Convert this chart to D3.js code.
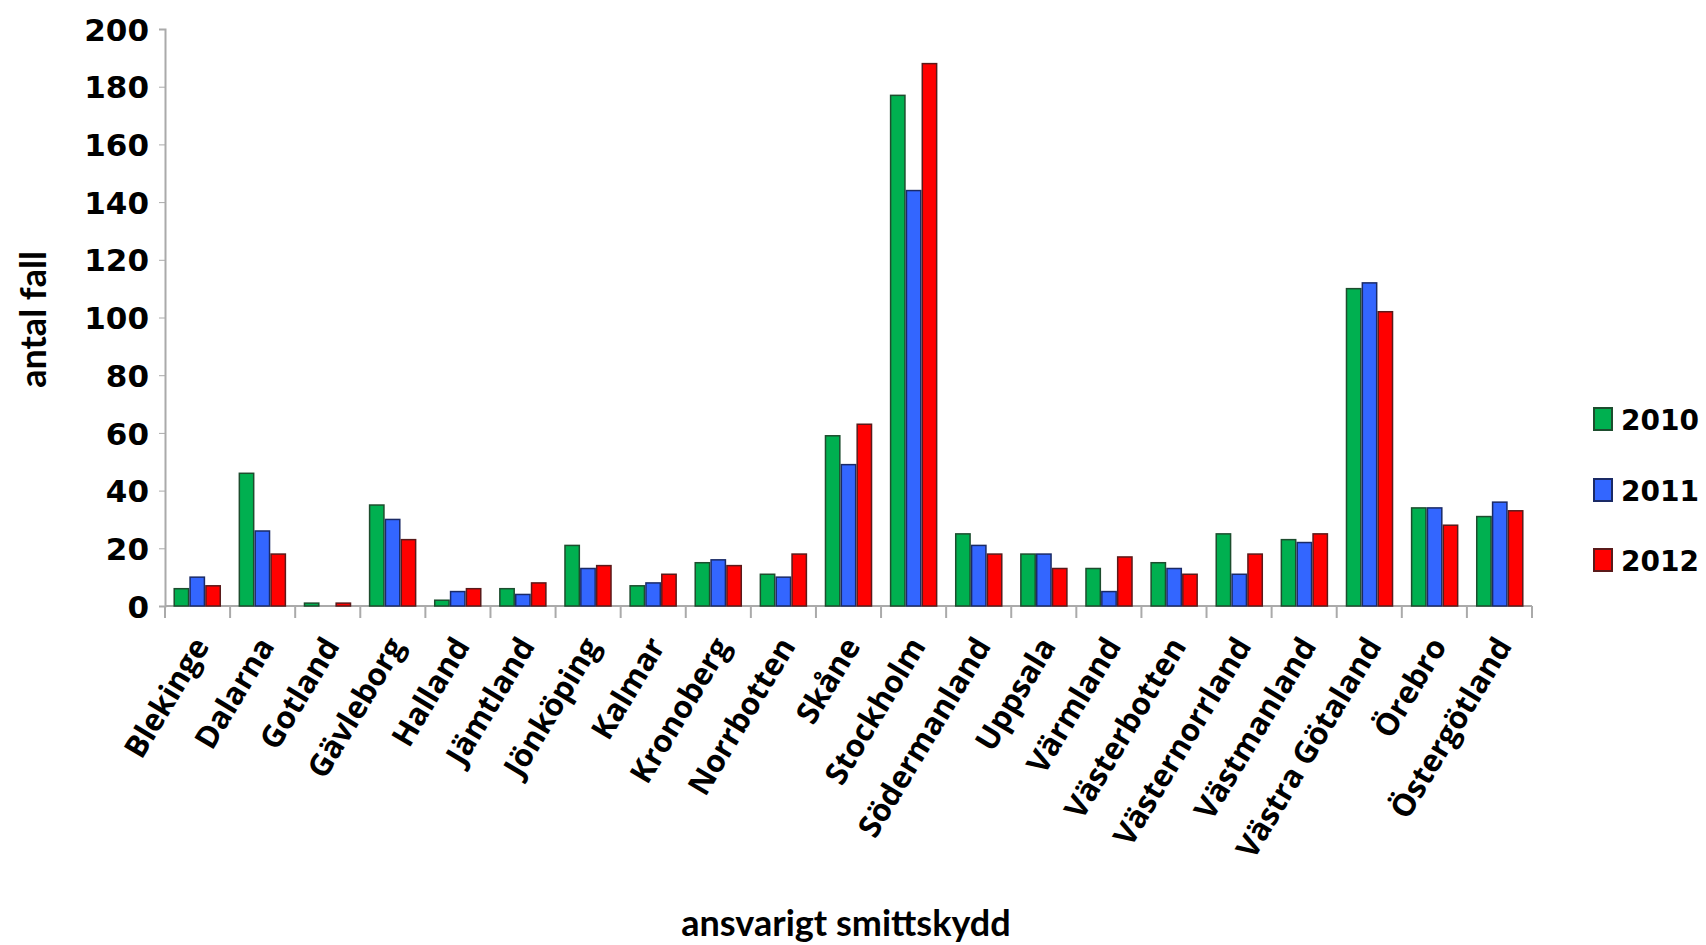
<!DOCTYPE html>
<html>
<head>
<meta charset="utf-8">
<script src="https://cdn.jsdelivr.net/npm/d3@7"></script>
<style>
  body { margin: 0; background: #fff; }
  text { font-family: Lato, "Liberation Sans", sans-serif; font-weight: bold; fill: #000; }
  .num { font-family: "DejaVu Sans", sans-serif; }
  .lab { font-family: "Open Sans", sans-serif; }
</style>
</head>
<body>
<svg id="chart" width="1706" height="945"></svg>
<script>
var regions = ['Blekinge', 'Dalarna', 'Gotland', 'Gävleborg', 'Halland', 'Jämtland', 'Jönköping',
  'Kalmar', 'Kronoberg', 'Norrbotten', 'Skåne', 'Stockholm', 'Södermanland', 'Uppsala', 'Värmland',
  'Västerbotten', 'Västernorrland', 'Västmanland', 'Västra Götaland', 'Örebro', 'Östergötland']
var years = ['2010', '2011', '2012']
var v2010 = [6, 46, 1, 35, 2, 6, 21, 7, 15, 11, 59, 177, 25, 18, 13, 15, 25, 23, 110, 34, 31]
var v2011 = [10, 26, 0, 30, 5, 4, 13, 8, 16, 10, 49, 144, 21, 18, 5, 13, 11, 22, 112, 34, 36]
var v2012 = [7, 18, 1, 23, 6, 8, 14, 11, 14, 18, 63, 188, 18, 13, 17, 11, 18, 25, 102, 28, 33]
var yTicks = d3.range(0, 201, 20)
var colors = ['#00b050', '#3366ff', '#ff0000']
var strokes = ['#1d4d2e', '#1a2a66', '#5a1a1a']

var series = [v2010, v2011, v2012]
var svg = d3.select('#chart')
var m = {left: 165, right: 174, top: 29, bottom: 339}
var W = 1706, H = 945

var x = d3.scaleBand().domain(regions).range([m.left, W - m.right]).paddingInner(0.27).paddingOuter(0.13)
var xs = d3.scaleBand().domain(years).range([0, x.bandwidth()])
var y = d3.scaleLinear().domain([0, 200]).range([H - m.bottom, m.top])

// axes
var yAxis = svg.append('g').attr('transform', `translate(${m.left},0)`)
  .call(d3.axisLeft(y).tickValues(yTicks).tickSize(6).tickPadding(10))
yAxis.select('.domain').attr('stroke', '#aaa').attr('stroke-width', 2)
yAxis.selectAll('.tick line').attr('stroke', '#aaa')
yAxis.selectAll('.tick text').attr('class', 'num').style('font-size', '31px').attr('dy', '0.36em')

var step = (W - m.right - m.left) / regions.length
var xAxis = svg.append('g').attr('transform', `translate(0,${y(0)})`)
xAxis.append('line').attr('x1', m.left).attr('x2', W - m.right).attr('stroke', '#aaa').attr('stroke-width', 2)
xAxis.selectAll('line.tk').data(d3.range(regions.length + 1)).join('line')
  .attr('class', 'tk')
  .attr('x1', i => m.left + i * step).attr('x2', i => m.left + i * step)
  .attr('y1', 0).attr('y2', 12).attr('stroke', '#aaa').attr('stroke-width', 2)

xAxis.selectAll('text.lab').data(regions).join('text')
  .attr('class', 'lab')
  .attr('text-anchor', 'end')
  .style('font-size', '31px')
  .attr('transform', d => `translate(${x(d) + x.bandwidth() / 2 + 13},${40}) rotate(-59)`)
  .text(d => d)

// bars
regions.forEach((r, i) => {
  var g = svg.append('g').attr('transform', `translate(${x(r)},0)`)
  g.selectAll('rect').data(years).join('rect')
    .attr('x', d => xs(d) + 0.75)
    .attr('width', xs.bandwidth() - 1.5)
    .attr('y', (d, j) => y(series[j][i]))
    .attr('height', (d, j) => y(0) - y(series[j][i]))
    .attr('fill', (d, j) => colors[j])
    .attr('stroke', (d, j) => strokes[j])
    .attr('stroke-width', 1.5)
})

// titles
svg.append('text').attr('transform', `translate(46,${(y(0) + y(200)) / 2 + 2}) rotate(-90)`)
  .attr('text-anchor', 'middle').style('font-size', '36px').text('antal fall')
svg.append('text').attr('x', 846).attr('y', 936)
  .attr('text-anchor', 'middle').style('font-size', '36px').text('ansvarigt smittskydd')

// legend
var leg = svg.append('g').attr('transform', 'translate(1594,0)')
var legY = [419, 490, 560]
years.forEach((yr, j) => {
  leg.append('rect').attr('x', 0).attr('y', legY[j] - 11).attr('width', 18).attr('height', 22)
    .attr('fill', colors[j]).attr('stroke', strokes[j]).attr('stroke-width', 2)
  leg.append('text').attr('class', 'num').attr('x', 27).attr('y', legY[j] + 11).style('font-size', '28px').text(yr)
})
</script>
</body>
</html>
